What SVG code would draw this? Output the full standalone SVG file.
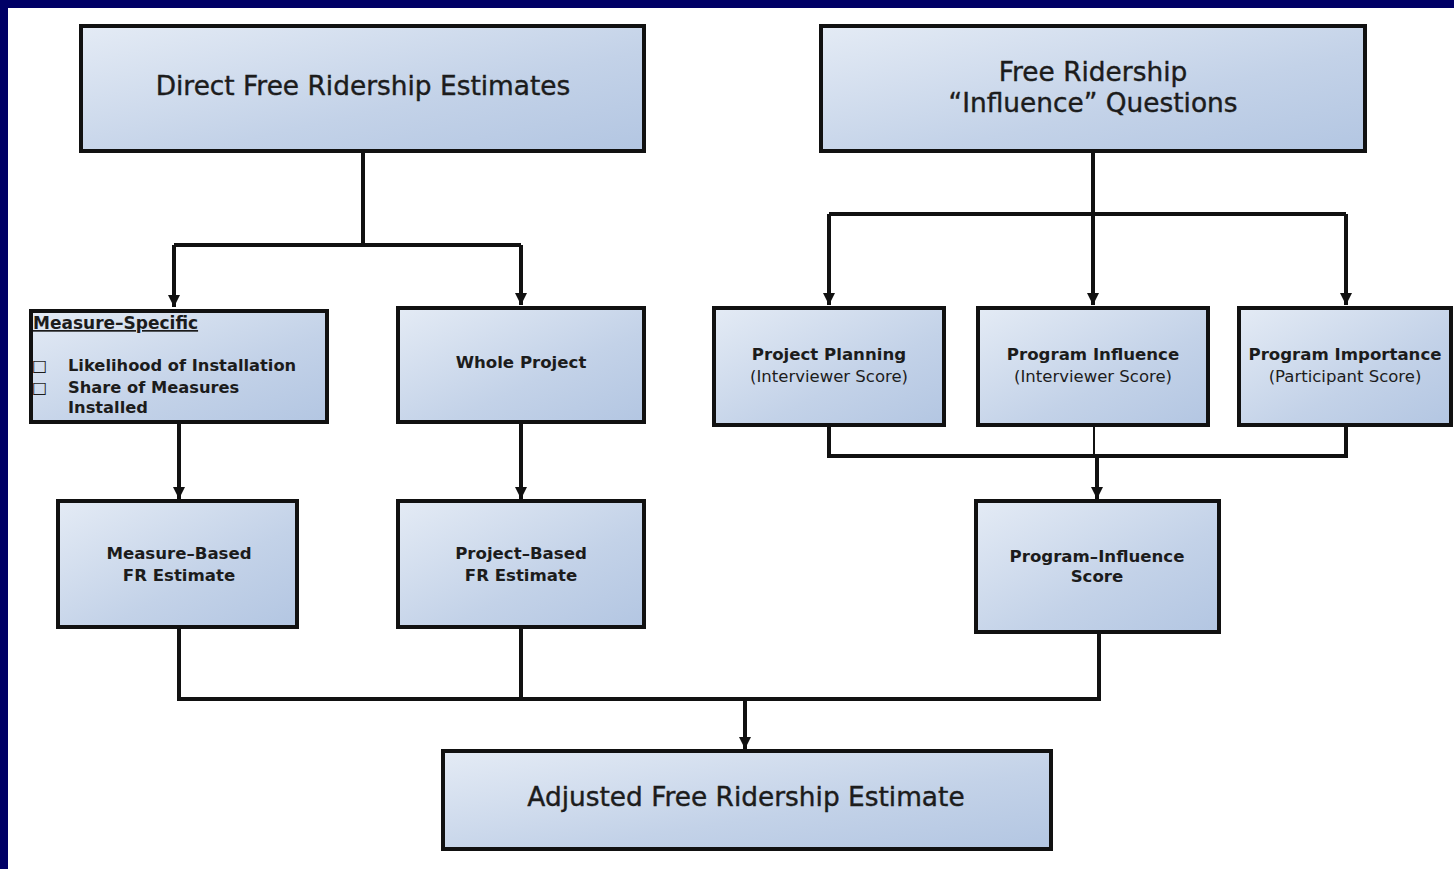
<svg xmlns="http://www.w3.org/2000/svg" width="1454" height="869" viewBox="0 0 1454 869">
<defs>
<linearGradient id="g" x1="0" y1="0" x2="1" y2="1">
<stop offset="0" stop-color="#e4ebf5"/>
<stop offset="0.6" stop-color="#c3d2e8"/>
<stop offset="1" stop-color="#b3c6e2"/>
</linearGradient>
<marker id="ah" viewBox="0 0 10 10" refX="10" refY="5" markerWidth="12" markerHeight="12" markerUnits="userSpaceOnUse" orient="auto">
<path d="M0,0 L10,5 L0,10 Z" fill="#111"/>
</marker>
<style>
.box{fill:url(#g);stroke:#111;stroke-width:4}
.c{fill:none;stroke:#111;stroke-width:4}
.t{font-family:"DejaVu Sans",Verdana,sans-serif;fill:#1c1c1c;text-anchor:middle}
.l{font-family:"DejaVu Sans",Verdana,sans-serif;fill:#1c1c1c}
.big{font-size:26.4px;stroke:#1c1c1c;stroke-width:0.4}
.sm{font-size:16.6px;font-weight:bold}
.rg{font-size:16.5px}
</style>
</defs>
<rect x="0" y="0" width="1454" height="869" fill="#ffffff"/>
<rect x="0" y="0" width="1454" height="8" fill="#000066"/>
<rect x="0" y="0" width="8" height="869" fill="#000066"/>

<g id="connectors">
<path class="c" d="M363,152 V245 M174,245 H521"/>
<path class="c" d="M174,245 V307" marker-end="url(#ah)"/>
<path class="c" d="M521,245 V305" marker-end="url(#ah)"/>
<path class="c" d="M1093,152 V305" marker-end="url(#ah)"/>
<path class="c" d="M829,214 H1346"/>
<path class="c" d="M829,214 V305" marker-end="url(#ah)"/>
<path class="c" d="M1346,214 V305" marker-end="url(#ah)"/>
<path class="c" d="M179,423 V499" marker-end="url(#ah)"/>
<path class="c" d="M521,423 V499" marker-end="url(#ah)"/>
<path class="c" d="M829,426 V456 H1346 V426"/>
<path fill="none" stroke="#111" stroke-width="2" d="M1094,426 V456"/>
<path class="c" d="M1097,456 V499" marker-end="url(#ah)"/>
<path class="c" d="M179,628 V699 H1099 V633 M521,628 V699"/>
<path class="c" d="M745,699 V749" marker-end="url(#ah)"/>
</g>

<g id="direct">
<rect class="box" x="81" y="26" width="563" height="125"/>
<text class="t big" x="363" y="95">Direct Free Ridership Estimates</text>
</g>
<g id="influence">
<rect class="box" x="821" y="26" width="544" height="125"/>
<text class="t big" x="1093" y="81">Free Ridership</text>
<text class="t big" x="1093" y="112">“Influence” Questions</text>
</g>
<g id="measure-specific">
<rect class="box" x="31" y="311" width="296" height="111"/>
<text class="l" x="33" y="329" font-size="17" font-weight="bold" text-decoration="underline">Measure–Specific</text>
<text class="l" x="32" y="371" font-size="16">□</text>
<text class="l" x="32" y="393" font-size="16">□</text>
<text class="l" x="68" y="371" font-size="16.3" font-weight="bold">Likelihood of Installation</text>
<text class="l" x="68" y="393" font-size="16.3" font-weight="bold">Share of Measures</text>
<text class="l" x="68" y="413" font-size="16.3" font-weight="bold">Installed</text>
</g>
<g id="whole-project">
<rect class="box" x="398" y="308" width="246" height="114"/>
<text class="t sm" x="521" y="368">Whole Project</text>
</g>
<g id="project-planning">
<rect class="box" x="714" y="308" width="230" height="117"/>
<text class="t sm" x="829" y="360">Project Planning</text>
<text class="t rg" x="829" y="382">(Interviewer Score)</text>
</g>
<g id="program-influence">
<rect class="box" x="978" y="308" width="230" height="117"/>
<text class="t sm" x="1093" y="360">Program Influence</text>
<text class="t rg" x="1093" y="382">(Interviewer Score)</text>
</g>
<g id="program-importance">
<rect class="box" x="1239" y="308" width="212" height="117"/>
<text class="t sm" x="1345" y="360">Program Importance</text>
<text class="t rg" x="1345" y="382">(Participant Score)</text>
</g>
<g id="measure-based">
<rect class="box" x="58" y="501" width="239" height="126"/>
<text class="t sm" x="179" y="559">Measure–Based</text>
<text class="t sm" x="179" y="581">FR Estimate</text>
</g>
<g id="project-based">
<rect class="box" x="398" y="501" width="246" height="126"/>
<text class="t sm" x="521" y="559">Project–Based</text>
<text class="t sm" x="521" y="581">FR Estimate</text>
</g>
<g id="program-influence-score">
<rect class="box" x="976" y="501" width="243" height="131"/>
<text class="t sm" x="1097" y="562">Program–Influence</text>
<text class="t sm" x="1097" y="582">Score</text>
</g>
<g id="adjusted">
<rect class="box" x="443" y="751" width="608" height="98"/>
<text class="t big" x="746" y="806">Adjusted Free Ridership Estimate</text>
</g>
</svg>
